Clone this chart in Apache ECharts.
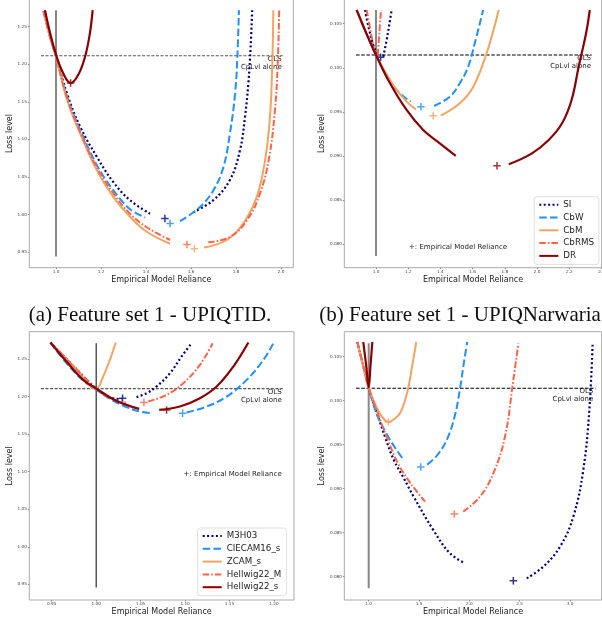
<!DOCTYPE html>
<html>
<head>
<meta charset="utf-8">
<script src="https://cdn.jsdelivr.net/npm/echarts@6/dist/echarts.min.js"></script>
<style>
  html, body { margin: 0; padding: 0; background: #fff; }
  #chart { width: 602px; height: 623px; }
</style>
</head>
<body>
<div id="chart"></div>
<script>
// model names per legend
const modelsAB = ["SI", "CbW", "CbM", "CbRMS", "DR"];
const modelsCD = ["M3H03", "CIECAM16_s", "ZCAM_s", "Hellwig22_M", "Hellwig22_s"];

// tick values
const xTicksA = [1.0, 1.2, 1.4, 1.6, 1.8, 2.0];
const yTicksA = [0.95, 1.00, 1.05, 1.10, 1.15, 1.20, 1.25];
const xTicksB = [1.0, 1.2, 1.4, 1.6, 1.8, 2.0, 2.2, 2.4];
const yTicksB = [0.080, 0.085, 0.090, 0.095, 0.100, 0.105];
const xTicksC = [0.95, 1.00, 1.05, 1.10, 1.15, 1.20];
const yTicksC = [0.95, 1.00, 1.05, 1.10, 1.15, 1.20, 1.25];
const xTicksD = [1.0, 1.5, 2.0, 2.5, 3.0];
const yTicksD = [0.080, 0.085, 0.090, 0.095, 0.100, 0.105];

// axis limits
const xRangeA = [0.8813, 2.0547], yRangeA = [0.9291, 1.2864];
const xRangeB = [0.8032, 2.401], yRangeB = [0.07735, 0.10775];
const xRangeC = [0.9248, 1.2225], yRangeC = [0.9291, 1.2866];
const xRangeD = [0.7576, 3.315], yRangeD = [0.07735, 0.10784];

// (a) UPIQTID
const a_SI_L = [[0.945,1.271],[0.972,1.239],[1.0,1.211],[1.05,1.160],[1.107,1.117],[1.181,1.077],[1.255,1.043],[1.329,1.019],[1.418,1.001]];
const a_SI_R = [[1.610,1.003],[1.699,1.019],[1.773,1.046],[1.818,1.086],[1.84,1.130],[1.855,1.175],[1.865,1.223],[1.872,1.272]];
const a_CbW_L = [[0.945,1.271],[0.972,1.238],[1.0,1.210],[1.05,1.156],[1.107,1.113],[1.181,1.066],[1.255,1.032],[1.329,1.007],[1.396,0.996]];
const a_CbW_R = [[1.551,0.991],[1.64,1.010],[1.699,1.032],[1.744,1.063],[1.773,1.108],[1.796,1.161],[1.806,1.210],[1.813,1.272]];
const a_CbM_L = [[0.945,1.271],[0.972,1.238],[1.0,1.210],[1.05,1.152],[1.107,1.108],[1.181,1.059],[1.255,1.023],[1.329,0.997],[1.403,0.977],[1.507,0.961]];
const a_CbM_R = [[1.658,0.956],[1.759,0.966],[1.832,0.988],[1.892,1.023],[1.929,1.072],[1.951,1.130],[1.961,1.197],[1.966,1.272]];
const a_CbRMS_L = [[0.945,1.271],[0.972,1.238],[1.0,1.210],[1.05,1.154],[1.107,1.110],[1.181,1.063],[1.255,1.028],[1.329,1.001],[1.403,0.983],[1.507,0.966]];
const a_CbRMS_R = [[1.677,0.963],[1.773,0.970],[1.848,0.992],[1.907,1.028],[1.948,1.077],[1.973,1.139],[1.985,1.197],[1.992,1.272]];
const a_DR = [[0.951,1.272],[0.975,1.240],[1.003,1.210],[1.032,1.188],[1.065,1.175],[1.099,1.186],[1.129,1.210],[1.150,1.240],[1.163,1.272]];
const a_emr = [[1.484,0.9945],[1.507,0.988],[1.615,0.9545],[1.582,0.960],[1.065,1.175]];
const a_ols = [[0.933,1.2113],[2.008,1.2113]];
const a_vline = [[1.0,0.944],[1.0,1.272]];

// (b) UPIQNarwaria
const b_SI_L = [[0.932,0.10655],[0.955,0.1045],[0.985,0.1025],[1.015,0.1012]];
const b_SI_R = [[1.045,0.10126],[1.066,0.10315],[1.087,0.10542],[1.097,0.10655]];
const b_CbW_L = [[0.880,0.10655],[0.94,0.1039],[1.0,0.10145],[1.087,0.09842],[1.149,0.09711],[1.215,0.09616]];
const b_CbW_R = [[1.361,0.09567],[1.458,0.09672],[1.520,0.09824],[1.572,0.10012],[1.613,0.10278],[1.665,0.10655]];
const b_CbM_L = [[0.880,0.10655],[0.94,0.1039],[1.0,0.10145],[1.107,0.09805],[1.190,0.09616],[1.248,0.09529]];
const b_CbM_R = [[1.402,0.09457],[1.520,0.09597],[1.604,0.09786],[1.683,0.10145],[1.725,0.1040],[1.762,0.10655]];
const b_CbRMS_L = [[0.942,0.10655],[0.968,0.1040],[0.994,0.10145]];
const b_CbRMS_R = [[1.011,0.10145],[1.021,0.1040],[1.031,0.10655]];
const b_DR_L = [[0.880,0.10655],[0.94,0.1039],[1.0,0.10145],[1.087,0.09824],[1.190,0.09522],[1.293,0.09295],[1.396,0.09144],[1.495,0.09003]];
const b_DR_R = [[1.824,0.08907],[1.968,0.09031],[2.072,0.09182],[2.155,0.09371],[2.214,0.09635],[2.258,0.10013],[2.304,0.10391],[2.327,0.10655]];
const b_emr = [[1.029,0.10119],[1.279,0.09559],[1.355,0.09457],null,[1.751,0.08891]];
const b_ols = [[0.876,0.10145],[2.339,0.10145]];
const b_vline = [[1.0,0.07867],[1.0,0.10655]];

// (c)
const c_M3H03_L = [[0.9486,1.2722],[0.975,1.240],[1.0,1.2109],[1.0154,1.1993],[1.0285,1.1967]];
const c_M3H03_R = [[1.0454,1.1993],[1.0567,1.2047],[1.0679,1.2136],[1.083,1.2313],[1.0961,1.2536],[1.1074,1.2713]];
const c_CIECAM16_L = [[0.9486,1.2722],[0.9666,1.2447],[0.9854,1.2215],[1.0,1.2095],[1.0154,1.1973],[1.0342,1.186],[1.0492,1.1802],[1.0623,1.178]];
const c_CIECAM16_R = [[1.1017,1.1789],[1.1242,1.1869],[1.1468,1.2002],[1.1693,1.2224],[1.1881,1.2491],[1.1993,1.2713]];
const c_ZCAM = [[0.9486,1.2722],[0.975,1.240],[1.0,1.2109],[1.0079,1.2269],[1.0154,1.2491],[1.0221,1.2722]];
const c_H22M_L = [[0.9486,1.2722],[0.975,1.240],[1.0,1.2109],[1.0154,1.198],[1.0334,1.1922]];
const c_H22M_R = [[1.0586,1.1936],[1.0792,1.2024],[1.098,1.218],[1.1167,1.2424],[1.131,1.2713]];
const c_H22s_L = [[0.9486,1.2722],[0.9666,1.2469],[0.9854,1.2224],[1.0,1.2109],[1.0191,1.1967],[1.0342,1.1891],[1.0484,1.1838]];
const c_H22s_R = [[1.0709,1.1824],[1.0942,1.1869],[1.1167,1.198],[1.1355,1.2136],[1.1543,1.2402],[1.1712,1.2722]];
const c_emr = [[1.0297,1.198],[1.0972,1.178],null,[1.0537,1.1922],[1.0792,1.1824]];
const c_ols = [[0.9378,1.2108],[1.2097,1.2108]];
const c_vline = [[1.0,0.9457],[1.0,1.2713]];

// (d)
const d_M3H03_L = [[0.887,0.10667],[0.945,0.1040],[1.0,0.10145],[1.085,0.0985],[1.169,0.09568],[1.251,0.09323],[1.351,0.09114],[1.444,0.08915],[1.642,0.0853],[1.808,0.08265],[1.957,0.08152]];
const d_M3H03_R = [[2.57,0.07981],[2.735,0.08114],[2.901,0.08341],[3.033,0.08682],[3.132,0.09212],[3.192,0.09894],[3.225,0.10652]];
const d_CIECAM16_L = [[0.887,0.10667],[0.945,0.1040],[1.0,0.10145],[1.085,0.09834],[1.185,0.09607],[1.268,0.09455],[1.351,0.09323]];
const d_CIECAM16_R = [[1.582,0.09273],[1.681,0.0938],[1.781,0.09568],[1.857,0.09834],[1.907,0.10136],[1.947,0.1044],[1.979,0.10667]];
const d_ZCAM = [[0.887,0.10667],[0.945,0.1040],[1.0,0.10145],[1.085,0.09909],[1.152,0.09789],[1.195,0.09758],[1.251,0.09789],[1.318,0.09872],[1.384,0.10099],[1.433,0.10402],[1.473,0.10667]];
const d_H22M_L = [[0.887,0.10667],[0.945,0.1040],[1.0,0.10145],[1.085,0.09872],[1.185,0.09568],[1.284,0.09303],[1.383,0.09114],[1.47,0.0898],[1.56,0.08852]];
const d_H22M_R = [[1.940,0.08739],[2.106,0.0891],[2.238,0.09174],[2.354,0.09591],[2.437,0.10235],[2.487,0.10652]];
const d_H22s = [[0.946,0.10667],[0.975,0.1040],[1.0,0.1015],[1.018,0.1040],[1.036,0.10667]];
const d_emr = [[2.437,0.07955],[1.517,0.09247],[1.195,0.09758],[1.851,0.08712],null];
const d_ols = [[0.874,0.10141],[3.255,0.10141]];
const d_vline = [[1.0,0.07868],[1.0,0.10652]];

const FONT = "DejaVu Sans";
const styles = [
    { color: "#000080", type: [2, 2.4], width: 2.2 },
    { color: "#1e90ff", type: [7.5, 3.2], width: 2 },
    { color: "#f4a460", type: "solid", width: 2 },
    { color: "#ff6347", type: [6.5, 2, 1.6, 2], width: 2 },
    { color: "#8b0000", type: "solid", width: 2.2 }
];
const plusPath = "path://M4,0H6V4H10V6H6V10H4V6H0V4H4Z";

const grids = [
    { left: 29.3, top: -0.6, width: 264, height: 268.3 },
    { left: 344.3, top: -0.6, width: 257.4, height: 268.3 },
    { left: 29.3, top: 331.7, width: 264.7, height: 268.3 },
    { left: 344.3, top: 331.7, width: 257.4, height: 268.3 }
].map(g => ({ ...g, show: true, borderColor: "#aaa", borderWidth: 1, containLabel: false, outerBoundsMode: "none" }));

const panels = [
    { xr: xRangeA, yr: yRangeA, xt: xTicksA, yt: yTicksA, xd: 1, yd: 2, names: modelsAB,
      curves: [[a_SI_L, a_SI_R], [a_CbW_L, a_CbW_R], [a_CbM_L, a_CbM_R], [a_CbRMS_L, a_CbRMS_R], [a_DR]],
      emr: a_emr, ols: a_ols, vline: a_vline, olsColor: "#555", olsType: [3, 1.6], vColor: "#888", vWidth: 2 },
    { xr: xRangeB, yr: yRangeB, xt: xTicksB, yt: yTicksB, xd: 1, yd: 3, names: modelsAB,
      curves: [[b_SI_L, b_SI_R], [b_CbW_L, b_CbW_R], [b_CbM_L, b_CbM_R], [b_CbRMS_L, b_CbRMS_R], [b_DR_L, b_DR_R]],
      emr: b_emr, ols: b_ols, vline: b_vline, olsColor: "#000", olsType: [3.6, 1.6], vColor: "#888", vWidth: 2 },
    { xr: xRangeC, yr: yRangeC, xt: xTicksC, yt: yTicksC, xd: 2, yd: 2, names: modelsCD,
      curves: [[c_M3H03_L, c_M3H03_R], [c_CIECAM16_L, c_CIECAM16_R], [c_ZCAM], [c_H22M_L, c_H22M_R], [c_H22s_L, c_H22s_R]],
      emr: c_emr, ols: c_ols, vline: c_vline, olsColor: "#555", olsType: [3, 1.6], vColor: "#000", vWidth: 1 },
    { xr: xRangeD, yr: yRangeD, xt: xTicksD, yt: yTicksD, xd: 1, yd: 3, names: modelsCD,
      curves: [[d_M3H03_L, d_M3H03_R], [d_CIECAM16_L, d_CIECAM16_R], [d_ZCAM], [d_H22M_L, d_H22M_R], [d_H22s]],
      emr: d_emr, ols: d_ols, vline: d_vline, olsColor: "#000", olsType: [3.6, 1.6], vColor: "#888", vWidth: 2 }
];

const yNameGap = [13.6, 17, 13.6, 17];
const xAxis = [], yAxis = [], series = [];

panels.forEach((p, gi) => {
    xAxis.push({
        type: "value", gridIndex: gi, min: p.xr[0], max: p.xr[1],
        axisLine: { show: false }, splitLine: { show: false },
        axisTick: { customValues: p.xt, length: 1.5, lineStyle: { color: "#555", width: 0.6 } },
        axisLabel: { customValues: p.xt, fontSize: 4.2, color: "#444", fontFamily: FONT, margin: 2.4,
            formatter: v => v.toFixed(p.xd) },
        name: "Empirical Model Reliance", nameLocation: "middle", nameGap: 8.2,
        nameTextStyle: { fontSize: 8, color: "#222", fontFamily: FONT }
    });
    yAxis.push({
        type: "value", gridIndex: gi, min: p.yr[0], max: p.yr[1],
        axisLine: { show: false }, splitLine: { show: false },
        axisTick: { customValues: p.yt, length: 1.5, lineStyle: { color: "#555", width: 0.6 } },
        axisLabel: { customValues: p.yt, fontSize: 4.2, color: "#444", fontFamily: FONT, margin: 2.4,
            formatter: v => v.toFixed(p.yd) },
        name: "Loss level", nameLocation: "middle", nameGap: yNameGap[gi],
        nameTextStyle: { fontSize: 8, color: "#222", fontFamily: FONT }
    });
    const base = { xAxisIndex: gi, yAxisIndex: gi, symbol: "none", silent: true };
    series.push({ ...base, type: "line", name: "vline" + gi, data: p.vline,
        lineStyle: { color: p.vColor, width: p.vWidth } });
    series.push({ ...base, type: "line", name: "ols" + gi, data: p.ols,
        lineStyle: { color: p.olsColor, width: 1.1, type: p.olsType } });
    p.curves.forEach((branches, mi) => {
        const st = styles[mi];
        branches.forEach(br => {
            series.push({ ...base, type: "line", name: p.names[mi], data: br,
                smooth: 0.4,
                lineStyle: { color: st.color, width: st.width, type: st.type, cap: "butt", join: "round" },
                itemStyle: { color: st.color } });
        });
    });
    p.emr.forEach((pt, mi) => {
        if (!pt) return;
        series.push({ ...base, type: "scatter", name: "emr" + gi + "_" + mi, data: [pt],
            symbol: plusPath, symbolSize: 7.5, itemStyle: { color: styles[mi].color } });
    });
});

const legendBase = {
    orient: "vertical", itemWidth: 19, itemHeight: 9, itemGap: 3.8,
    padding: [3.5, 5, 4, 4], backgroundColor: "#fff", borderColor: "#d5d5d5",
    borderWidth: 0.8, borderRadius: 2.5, selectedMode: false,
    itemStyle: { opacity: 0 },
    textStyle: { fontSize: 8.7, color: "#222", fontFamily: FONT }
};

const txt = (x, y, text, align, size, font) => ({
    type: "text", x, y,
    style: { text, fontSize: size, fontFamily: font || FONT, fill: "#222", align, verticalAlign: "middle" }
});

const option = {
    animation: false,
    grid: grids,
    xAxis, yAxis, series,
    legend: [
        { ...legendBase, data: modelsAB, left: 534.3, top: 196.7 },
        { ...legendBase, data: modelsCD, left: 197.7, top: 528 }
    ],
    graphic: [
        txt(281.7, 59, "OLS", "right", 7),
        txt(281.7, 67, "CpLvl alone", "right", 7),
        txt(591, 58.3, "OLS", "right", 7),
        txt(591, 66.3, "CpLvl alone", "right", 7),
        txt(281.7, 391.7, "OLS", "right", 7),
        txt(281.7, 399.7, "CpLvl alone", "right", 7),
        txt(593.3, 391, "OLS", "right", 7),
        txt(593.3, 399, "CpLvl alone", "right", 7),
        txt(409, 247.3, "+: Empirical Model Reliance", "left", 7),
        txt(281.7, 474.3, "+: Empirical Model Reliance", "right", 7),
        { type: "text", x: 150, y: 315, style: { text: "(a) Feature set 1 - UPIQTID.", fontSize: 21,
            fontFamily: "Liberation Serif", fill: "#111", align: "center", verticalAlign: "middle" } },
        { type: "text", x: 319.3, y: 315, style: { text: "(b) Feature set 1 - UPIQNarwaria", fontSize: 21,
            fontFamily: "Liberation Serif", fill: "#111", align: "left", verticalAlign: "middle" } }
    ]
};

const chart = echarts.init(document.getElementById("chart"), null, { renderer: "canvas" });
chart.setOption(option);
</script>
</body>
</html>
